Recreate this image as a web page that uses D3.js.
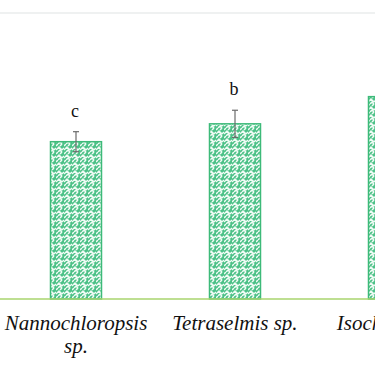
<!DOCTYPE html>
<html>
<head>
<meta charset="utf-8">
<script src="https://cdn.jsdelivr.net/npm/d3@7"></script>
<style>
  html, body { margin: 0; padding: 0; background: #fff; }
  svg { display: block; }
  .serif { font-family: "Liberation Serif", "Times New Roman", Times, "DejaVu Serif", serif; }
</style>
</head>
<body>
<svg class="chart" width="375" height="366"></svg>
<script>
const categories = [['Nannochloropsis', 'sp.'], ['Tetraselmis sp.'], ['Isochrysis sp.']]
const keys = ['Nannochloropsis sp.', 'Tetraselmis sp.', 'Isochrysis sp.']
const values = [2.2, 2.45, 2.83]
const errors = [0.14, 0.19, 0.15]
const letters = ['c', 'b']

const svg = d3.select('.chart'),
  baseY = 299,
  topY = 13

const x = d3.scaleBand().domain(keys).range([-3.5, 473.5])
  .paddingInner(0.673).paddingOuter(0.3365)
const y = d3.scaleLinear().domain([0, 4]).range([baseY, topY])

// weave pattern for the bars
const defs = svg.append('defs')
const pat = defs.append('pattern')
  .attr('id', 'weave')
  .attr('patternUnits', 'userSpaceOnUse')
  .attr('width', 8).attr('height', 8)
pat.append('rect').attr('width', 8).attr('height', 8).attr('fill', '#4cc187')
pat.append('path')
  .attr('d', 'M0,6 L3,3 L6,6 M4,2 L6,0 M6,6 L8,4 M0,2 L2,0 M2,8 L4,6 L6,8')
  .attr('stroke', '#f0fbf5').attr('stroke-width', 1.5).attr('fill', 'none')

// top frame line
svg.append('line')
  .attr('x1', 0).attr('x2', 375)
  .attr('y1', y(4)).attr('y2', y(4))
  .attr('stroke', '#dfe3e3').attr('stroke-width', 1)

svg.selectAll('.bar')
  .data(keys)
  .enter().append('rect')
  .attr('class', 'bar')
  .attr('x', d => x(d) + 0.5)
  .attr('y', (d, i) => y(values[i]))
  .attr('width', x.bandwidth() - 1)
  .attr('height', (d, i) => baseY - y(values[i]))
  .attr('fill', 'url(#weave)')
  .attr('stroke', '#3dba79')
  .attr('stroke-width', 1.5)

// baseline
svg.append('line')
  .attr('x1', 0).attr('x2', 375)
  .attr('y1', baseY).attr('y2', baseY)
  .attr('stroke', '#a9d46e').attr('stroke-width', 1.5)

// error bars
const eb = svg.selectAll('.err')
  .data(keys)
  .enter().append('g')
  .attr('class', 'err')
  .attr('stroke', '#6b6b6b').attr('stroke-width', 1.2)
eb.append('line')
  .attr('x1', d => x(d) + x.bandwidth() / 2).attr('x2', d => x(d) + x.bandwidth() / 2)
  .attr('y1', (d, i) => y(values[i] + errors[i]))
  .attr('y2', (d, i) => y(values[i] - errors[i]))
eb.append('line')
  .attr('x1', d => x(d) + x.bandwidth() / 2 - 3).attr('x2', d => x(d) + x.bandwidth() / 2 + 3)
  .attr('y1', (d, i) => y(values[i] + errors[i]))
  .attr('y2', (d, i) => y(values[i] + errors[i]))
eb.append('line')
  .attr('x1', d => x(d) + x.bandwidth() / 2 - 3).attr('x2', d => x(d) + x.bandwidth() / 2 + 3)
  .attr('y1', (d, i) => y(values[i] - errors[i]))
  .attr('y2', (d, i) => y(values[i] - errors[i]))

// significance letters (third one falls outside the crop)
svg.selectAll('.letter')
  .data(letters)
  .enter().append('text')
  .attr('class', 'letter serif')
  .attr('x', (d, i) => x(keys[i]) + x.bandwidth() / 2 - 1)
  .attr('y', (d, i) => y(values[i] + errors[i]) - 15)
  .attr('text-anchor', 'middle')
  .style('font-size', '18px')
  .attr('fill', '#111')
  .text(d => d)

// category labels
const lab = svg.selectAll('.cat')
  .data(keys)
  .enter().append('text')
  .attr('class', 'cat serif')
  .attr('text-anchor', 'middle')
  .attr('y', 330)
  .style('font-style', 'italic')
  .style('font-size', '21px')
  .attr('fill', '#111')
lab.each(function (d, i) {
  const t = d3.select(this)
  categories[i].forEach((line, j) => {
    t.append('tspan')
      .attr('x', x(d) + x.bandwidth() / 2)
      .attr('dy', j === 0 ? 0 : 23)
      .text(line)
  })
})
</script>
</body>
</html>
